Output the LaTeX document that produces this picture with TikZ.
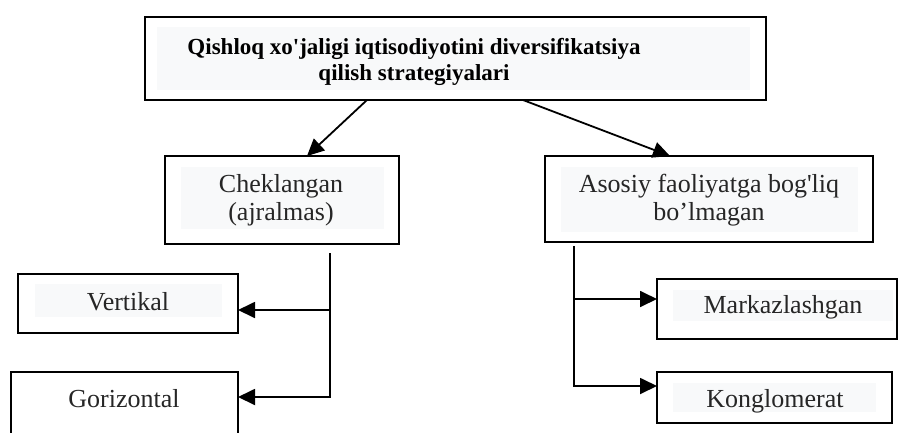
\documentclass[tikz,border=0pt]{standalone}
\usepackage{fontspec}
\setmainfont{Liberation Serif}
\usetikzlibrary{arrows.meta,calc}
\definecolor{shadegray}{HTML}{F8F9FA}
\tikzset{
  box/.style={draw=black, line width=1.8pt, inner sep=0pt, outer sep=0pt, anchor=north west},
  txt/.style={inner sep=0pt, align=center, text=black!85},
  arr/.style={line width=1.8pt, -{Triangle[length=17pt,width=16pt]}},
}
\begin{document}
\begin{tikzpicture}[x=1pt,y=-1pt]
\useasboundingbox (0,0) rectangle (899,432);
\clip (0,0) rectangle (899,432);
% shaded text backgrounds
\fill[shadegray] (157,27) rectangle (750,90);
\fill[shadegray] (181,167) rectangle (384,229);
\fill[shadegray] (561,167) rectangle (858,232);
\fill[shadegray] (35,284) rectangle (222,317);
\fill[shadegray] (673,290) rectangle (893,321);
\fill[shadegray] (673,383) rectangle (876,412);
% boxes
\node[box, line width=2.8pt, minimum width=621pt, minimum height=83pt] (top) at (145,17) {};
\node[box, minimum width=234pt, minimum height=88pt] (chek) at (165,156) {};
\node[box, minimum width=328pt, minimum height=86pt] (asos) at (545,156) {};
\node[box, minimum width=220pt, minimum height=59pt] (vert) at (18,274) {};
\node[box, minimum width=227pt, minimum height=70pt] (gori) at (11,372) {};
\node[box, minimum width=240pt, minimum height=60pt] (mark) at (657,279) {};
\node[box, minimum width=235pt, minimum height=51pt] (kong) at (657,372) {};
% texts
\node[txt, text=black, font=\fontsize{23}{26}\selectfont\bfseries] (ttl) at (414,62)
  {Qishloq xo\textquotesingle jaligi iqtisodiyotini diversifikatsiya\\qilish strategiyalari};
\node[txt, font=\fontsize{26}{28}\selectfont] (chekt) at (281,200) {Cheklangan\\(ajralmas)};
\node[txt, font=\fontsize{26}{28}\selectfont] (asost) at (709,200) {Asosiy faoliyatga bog\textquotesingle liq\\bo’lmagan};
\node[txt, font=\fontsize{26}{28}\selectfont, anchor=base] (vertt) at (128,310) {Vertikal};
\node[txt, font=\fontsize{26}{28}\selectfont, anchor=base] (gorit) at (124,407) {Gorizontal};
\node[txt, font=\fontsize{26}{28}\selectfont, anchor=base] (markt) at (783,313) {Markazlashgan};
\node[txt, font=\fontsize{26}{28}\selectfont, anchor=base] (kongt) at (775,407) {Konglomerat};
% connectors from the title
\draw[arr] ([xshift=222pt]top.south west) -- ([xshift=142pt]chek.north west);
\draw[arr] ([xshift=378pt]top.south west) -- ([xshift=125pt]asos.north west);
% left branch
\coordinate (lv) at ([xshift=165pt,yshift=-9pt]chek.south west);
\coordinate (va) at ([yshift=-36pt]vert.north east);
\coordinate (ga) at ([yshift=-25pt]gori.north east);
\draw[arr] (lv) |- (ga);
\draw[arr] (lv |- va) -- (va);
% right branch
\coordinate (rv) at ([xshift=29pt,yshift=-4pt]asos.south west);
\coordinate (ma) at ([yshift=-20pt]mark.north west);
\coordinate (ka) at ([yshift=-14pt]kong.north west);
\draw[arr] (rv) |- (ka);
\draw[arr] (rv |- ma) -- (ma);
\end{tikzpicture}
\end{document}
